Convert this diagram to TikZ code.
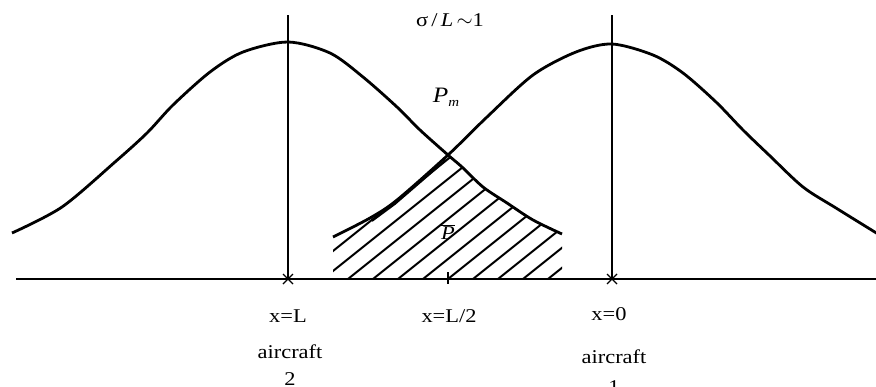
\documentclass[tikz,border=0pt]{standalone}
\usepackage{fontspec}
\setmainfont{Liberation Serif}[FakeStretch=1.15]
\usetikzlibrary{calc}
\begin{document}
\begin{tikzpicture}[x=1pt,y=-1pt,
  curve/.style={line width=2.8pt,line join=round},
  thin/.style={line width=1.2pt},
  hatch/.style={line width=2pt},
  lbl/.style={font=\fontsize{19.5}{22}\selectfont,inner sep=0pt}]
\useasboundingbox (0,0) rectangle (876,386);
% axis
\coordinate (axL) at (16,279);
\coordinate (axR) at (876,279);
\draw[line width=1.5pt] (axL) -- (axR);
% peaks / vertical lines
\coordinate (p2top) at (288,15);
\coordinate (p2) at (288,279);
\coordinate (p1top) at (612,15);
\coordinate (p1) at (612,279);
\coordinate (mid) at (448,279);
\draw[thin] (p2top) -- (p2);
\draw[thin] (p1top) -- (p1);
\draw[thin] ($(p2)+(-5,-5)$) -- ($(p2)+(5,5)$) ($(p2)+(-5,5)$) -- ($(p2)+(5,-5)$);
\draw[thin] ($(p1)+(-5,-5)$) -- ($(p1)+(5,5)$) ($(p1)+(-5,5)$) -- ($(p1)+(5,-5)$);
\draw[thin] ($(mid)+(0,-7)$) -- ($(mid)+(0,5)$);
% hatching
\begin{scope}
\clip (333,279) -- (333,237) -- plot[smooth] coordinates {(333,237) (370,218) (397,200) (448,155)}
  -- plot[smooth] coordinates {(448,155) (462,167) (483,187) (507,203) (533,220) (562,234)}
  -- (562,279) -- cycle;
\foreach \k in {-5,...,10}{
  \draw[hatch] (348+25*\k-80,279+64) -- (348+25*\k+260,279-208);
}
\end{scope}
% curves
\draw[curve] plot[smooth] coordinates {(12,233) (62,207) (115,162) (147,133) (173,105) (210,72) (243,52) (288,42) (330,53) (363,77) (397,107) (420,130) (448,155) (462,167) (483,187) (507,203) (533,220) (562,234)};
\draw[curve] plot[smooth] coordinates {(333,237) (370,218) (397,200) (448,155) (487,117) (533,75) (576,52) (612,44) (653,55) (683,73) (716,102) (743,130) (769,155) (803,187) (836,208) (878,234)};
\draw[line width=1.8pt] (372,221) -- (395,204) -- (446,160);
% labels
\node[lbl] (sig) at (450,20) {σ\,/\,\textit{L}\,$\sim$1};
\node[lbl,font=\fontsize{22}{24}\selectfont] (pm) at (446,97) {\textit{P}\raisebox{-0.4ex}{\fontsize{13}{13}\selectfont\textit{m}}};
\node[lbl] (pbar) at (448,232) {$\overline{\mbox{\textit{P}}}$};
\node[lbl] (xL) at (288,316) {x=L};
\node[lbl] (xL2) at (449,316) {x=L/2};
\node[lbl] (x0) at (609,314) {x=0};
\node[lbl] (a2) at (290,352) {aircraft};
\node[lbl] (n2) at (290,379) {2};
\node[lbl] (a1) at (614,357) {aircraft};
\node[lbl] (n1) at (614,387) {1};
\end{tikzpicture}
\end{document}
